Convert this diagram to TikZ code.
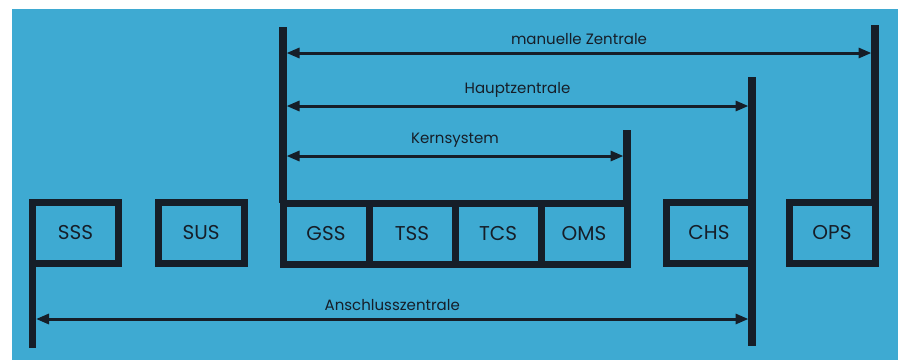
\documentclass[tikz,border=0pt]{standalone}
\usepackage{fontspec}
\setmainfont{Poppins}
\usetikzlibrary{arrows.meta, positioning}
\definecolor{PanelBlue}{RGB}{62, 170, 210}
\definecolor{InkNavy}{RGB}{22, 30, 40}

\begin{document}
\begin{tikzpicture}[
    x=1pt, y=-1pt,
    every node/.style={text=InkNavy},
    unit/.style={draw=InkNavy, line width=7pt, outer sep=0pt, minimum width=86pt, minimum height=61pt, text height=13pt, text depth=0pt, font=\fontsize{20}{20}\selectfont},
    bar/.style={draw=InkNavy, line width=7.5pt},
    span/.style={{Triangle[length=13pt, width=10pt]}-{Triangle[length=13pt, width=10pt]}, draw=InkNavy, line width=3pt, shorten <=3.5pt, shorten >=3.5pt},
    spanlabel/.style={midway, above=4pt, font=\fontsize{15}{15}\selectfont}
]
\useasboundingbox (0,0) rectangle (898,360);
\fill[PanelBlue] (12,9) rectangle (898,360);

% subsystems
\node[unit] (sss) at (75.5,233) {SSS};
\node[unit] (sus) at (201,233) {SUS};
\node[unit] (gss) at (326,233.5) {GSS};
\node[unit, right=0pt of gss] (tss) {TSS};
\node[unit, right=0pt of tss] (tcs) {TCS};
\node[unit, right=0pt of tcs] (oms) {OMS};
\node[unit] (chs) at (709,233) {CHS};
\node[unit] (ops) at (832,233) {OPS};

% boundary bars
\draw[bar] (sss.north west) -- (sss.north west |- 0,348);
\draw[bar] (gss.north west |- 0,27) -- (gss.north west);
\draw[bar] (oms.north east |- 0,130) -- (oms.north east);
\draw[bar] (chs.north east |- 0,77) -- (chs.north east |- 0,346);
\draw[bar] (ops.north east |- 0,25) -- (ops.north east);

% ranges
\draw[span] (gss.north west |- 0,53) -- (ops.north east |- 0,53) node[spanlabel] {manuelle Zentrale};
\draw[span] (gss.north west |- 0,106) -- (chs.north east |- 0,106) node[spanlabel] {Hauptzentrale};
\draw[span] (gss.north west |- 0,156) -- (oms.north east |- 0,156) node[spanlabel] {Kernsystem};
\draw[span] (sss.north west |- 0,319) -- (chs.north east |- 0,319) node[spanlabel] {Anschlusszentrale};
\end{tikzpicture}
\end{document}
